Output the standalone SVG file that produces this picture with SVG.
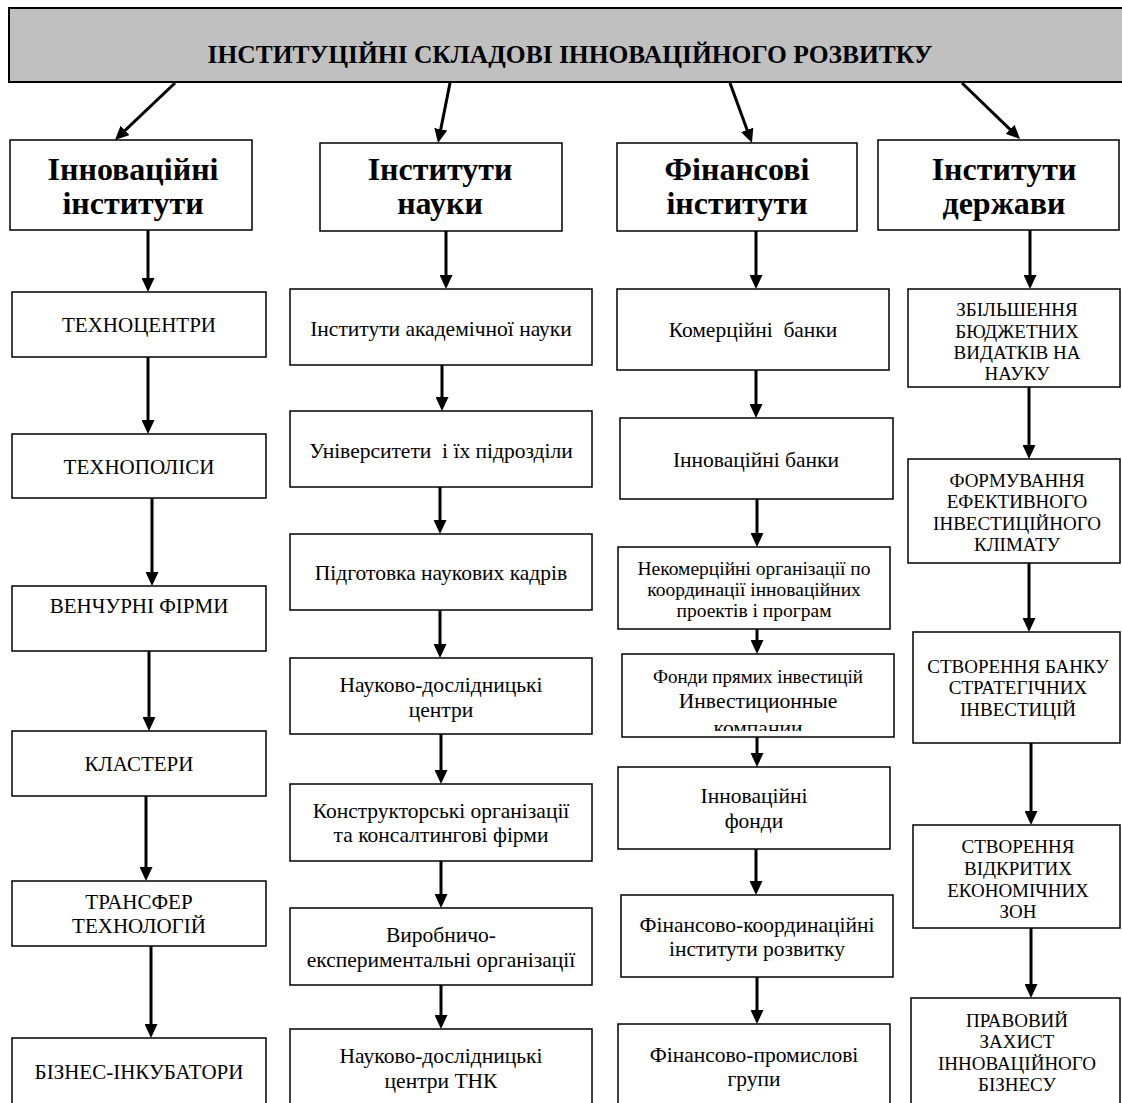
<svg xmlns="http://www.w3.org/2000/svg" width="1122" height="1103" viewBox="0 0 1122 1103">
<style>
.box{fill:#fff;stroke:#000;stroke-width:1.5}
.hdr{fill:#c0c0c0;stroke:#000;stroke-width:2}
text{font-family:"Liberation Serif","Times New Roman",serif;fill:#000;text-anchor:middle}
.t0{font-size:25.5px;font-weight:bold}
.t1{font-size:32px;font-weight:bold}
.ta{font-size:21px}
.tb{font-size:21.5px}
.tc{font-size:21.5px}
.ts{font-size:19.5px}
.tf{font-size:19px}
.td{font-size:19px}
.con path{fill:none;stroke:#000;stroke-width:3;marker-end:url(#ah)}
</style>
<defs>
<marker id="ah" viewBox="0 0 14 13" refX="8" refY="6.5" markerWidth="14" markerHeight="13" markerUnits="userSpaceOnUse" orient="auto">
<path d="M0,0 L14,6.5 L0,13 z" fill="#000"/>
</marker>
<clipPath id="clipF"><rect x="622" y="654" width="272" height="77"/></clipPath>
</defs>
<rect width="1122" height="1103" fill="#fff"/>

<g id="header">
<rect class="hdr" x="9" y="8" width="1120" height="74"/>
<text class="t0" x="570" y="63">ІНСТИТУЦІЙНІ СКЛАДОВІ ІННОВАЦІЙНОГО РОЗВИТКУ</text>
</g>

<g id="n-a"><rect class="box" x="10" y="140" width="242" height="90"/><text class="t1" x="133" y="180">Інноваційні</text><text class="t1" x="133" y="214">інститути</text></g>
<g id="n-b"><rect class="box" x="320" y="143" width="242" height="88"/><text class="t1" x="440" y="180">Інститути</text><text class="t1" x="440" y="214">науки</text></g>
<g id="n-c"><rect class="box" x="617" y="143" width="240" height="88"/><text class="t1" x="737" y="180">Фінансові</text><text class="t1" x="737" y="214">інститути</text></g>
<g id="n-d"><rect class="box" x="878" y="140" width="241" height="90"/><text class="t1" x="1004" y="180">Інститути</text><text class="t1" x="1004" y="214">держави</text></g>

<g id="a1"><rect class="box" x="12" y="292" width="254" height="65"/><text class="ta" x="139" y="332">ТЕХНОЦЕНТРИ</text></g>
<g id="a2"><rect class="box" x="12" y="434" width="254" height="64"/><text class="ta" x="139" y="474">ТЕХНОПОЛІСИ</text></g>
<g id="a3"><rect class="box" x="12" y="586" width="254" height="65"/><text class="ta" x="139" y="613">ВЕНЧУРНІ ФІРМИ</text></g>
<g id="a4"><rect class="box" x="12" y="731" width="254" height="65"/><text class="ta" x="139" y="771">КЛАСТЕРИ</text></g>
<g id="a5"><rect class="box" x="12" y="881" width="254" height="65"/><text class="ta" x="139" y="909">ТРАНСФЕР</text><text class="ta" x="139" y="933">ТЕХНОЛОГІЙ</text></g>
<g id="a6"><rect class="box" x="12" y="1038" width="254" height="70"/><text class="ta" x="139" y="1079">БІЗНЕС-ІНКУБАТОРИ</text></g>

<g id="b1"><rect class="box" x="290" y="289" width="302" height="76"/><text class="tb" x="441" y="336">Інститути академічної науки</text></g>
<g id="b2"><rect class="box" x="290" y="411" width="302" height="76"/><text class="tb" x="441" y="458" xml:space="preserve">Університети  і їх підрозділи</text></g>
<g id="b3"><rect class="box" x="290" y="534" width="302" height="76"/><text class="tb" x="441" y="580">Підготовка наукових кадрів</text></g>
<g id="b4"><rect class="box" x="290" y="658" width="302" height="76"/><text class="tb" x="441" y="692">Науково-дослідницькі</text><text class="tb" x="441" y="717">центри</text></g>
<g id="b5"><rect class="box" x="290" y="784" width="302" height="77"/><text class="tb" x="441" y="818">Конструкторські організації</text><text class="tb" x="441" y="842">та консалтингові фірми</text></g>
<g id="b6"><rect class="box" x="290" y="908" width="302" height="77"/><text class="tb" x="441" y="942">Виробничо-</text><text class="tb" x="441" y="967">експериментальні організації</text></g>
<g id="b7"><rect class="box" x="290" y="1029" width="302" height="80"/><text class="tb" x="441" y="1063">Науково-дослідницькі</text><text class="tb" x="441" y="1088">центри ТНК</text></g>

<g id="c1"><rect class="box" x="617" y="289" width="272" height="81"/><text class="tc" x="753" y="337" xml:space="preserve">Комерційні  банки</text></g>
<g id="c2"><rect class="box" x="620" y="418" width="273" height="81"/><text class="tc" x="756" y="467">Інноваційні банки</text></g>
<g id="c3"><rect class="box" x="618" y="547" width="272" height="82"/><text class="ts" x="754" y="575">Некомерційні організації по</text><text class="ts" x="754" y="596">координації інноваційних</text><text class="ts" x="754" y="617">проектів і програм</text></g>
<g id="c4"><rect class="box" x="622" y="654" width="272" height="83"/><text class="tf" x="758" y="683">Фонди прямих інвестицій</text><text class="tc" x="758" y="708">Инвестиционные</text><text class="tc" x="758" y="735" clip-path="url(#clipF)">компании</text></g>
<g id="c5"><rect class="box" x="618" y="767" width="272" height="82"/><text class="tc" x="754" y="803">Інноваційні</text><text class="tc" x="754" y="828">фонди</text></g>
<g id="c6"><rect class="box" x="621" y="895" width="272" height="82"/><text class="tc" x="757" y="932">Фінансово-координаційні</text><text class="tc" x="757" y="956">інститути розвитку</text></g>
<g id="c7"><rect class="box" x="618" y="1024" width="272" height="85"/><text class="tc" x="754" y="1062">Фінансово-промислові</text><text class="tc" x="754" y="1086">групи</text></g>

<g id="d1"><rect class="box" x="908" y="289" width="212" height="98"/><text class="td" x="1017" y="316">ЗБІЛЬШЕННЯ</text><text class="td" x="1017" y="338">БЮДЖЕТНИХ</text><text class="td" x="1017" y="359">ВИДАТКІВ НА</text><text class="td" x="1017" y="380">НАУКУ</text></g>
<g id="d2"><rect class="box" x="908" y="459" width="212" height="104"/><text class="td" x="1017" y="487">ФОРМУВАННЯ</text><text class="td" x="1017" y="508">ЕФЕКТИВНОГО</text><text class="td" x="1017" y="530">ІНВЕСТИЦІЙНОГО</text><text class="td" x="1017" y="551">КЛІМАТУ</text></g>
<g id="d3"><rect class="box" x="913" y="632" width="207" height="111"/><text class="td" x="1018" y="673">СТВОРЕННЯ БАНКУ</text><text class="td" x="1018" y="694">СТРАТЕГІЧНИХ</text><text class="td" x="1018" y="716">ІНВЕСТИЦІЙ</text></g>
<g id="d4"><rect class="box" x="913" y="825" width="207" height="103"/><text class="td" x="1018" y="853">СТВОРЕННЯ</text><text class="td" x="1018" y="875">ВІДКРИТИХ</text><text class="td" x="1018" y="897">ЕКОНОМІЧНИХ</text><text class="td" x="1018" y="918">ЗОН</text></g>
<g id="d5"><rect class="box" x="911" y="998" width="209" height="110"/><text class="td" x="1017" y="1027">ПРАВОВИЙ</text><text class="td" x="1017" y="1048">ЗАХИСТ</text><text class="td" x="1017" y="1070">ІННОВАЦІЙНОГО</text><text class="td" x="1017" y="1091">БІЗНЕСУ</text></g>

<g id="connectors" class="con">
<path d="M175,83 L119.3,135.8"/>
<path d="M450,83 L439.2,137.1"/>
<path d="M730,83 L749.9,137.4"/>
<path d="M962,83 L1015.7,134.8"/>

<path d="M148,230 V286"/>
<path d="M148,357 V428"/>
<path d="M152,498 V580"/>
<path d="M149,651 V725"/>
<path d="M146,796 V875"/>
<path d="M151,946 V1032"/>

<path d="M446,231 V283"/>
<path d="M442,365 V405"/>
<path d="M440,487 V528"/>
<path d="M440,610 V652"/>
<path d="M441,734 V778"/>
<path d="M441,861 V902"/>
<path d="M441,985 V1023"/>

<path d="M756,231 V283"/>
<path d="M756,370 V412"/>
<path d="M757,499 V541"/>
<path d="M757,629 V648"/>
<path d="M757,737 V761"/>
<path d="M756,849 V889"/>
<path d="M757,977 V1018"/>

<path d="M1030,230 V283"/>
<path d="M1029,387 V453"/>
<path d="M1029,563 V626"/>
<path d="M1031,743 V819"/>
<path d="M1031,928 V992"/>
</g>
</svg>
